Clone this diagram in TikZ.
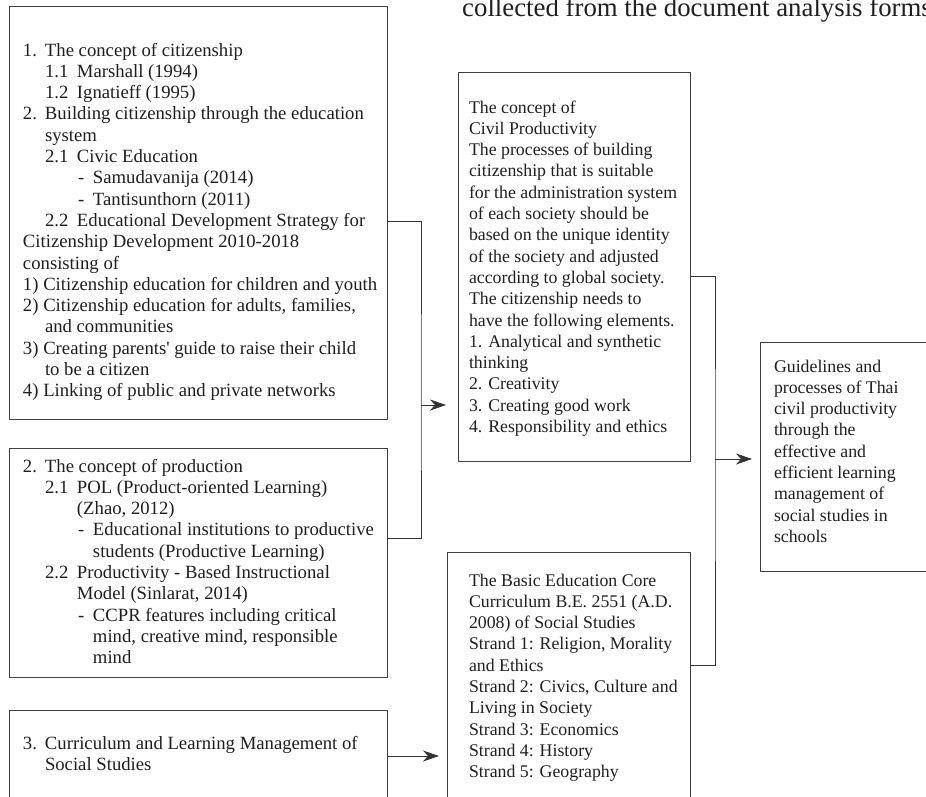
\documentclass[tikz,border=0pt]{standalone}
\usepackage{fontspec}
\setmainfont{Liberation Serif}
\usetikzlibrary{arrows.meta,calc}
\newcommand{\lb}[2]{\makebox[#1pt][l]{#2}}
\newcommand{\ind}[1]{\hspace*{#1pt}}
\begin{document}
\begin{tikzpicture}[x=1pt,y=-1pt,
  box/.style={draw=black!75, line width=0.9pt, inner sep=0pt, outer sep=0pt, anchor=north west},
  txt/.style={anchor=north west, inner sep=0pt, outer sep=0pt, align=left,
              font=\fontsize{18.7}{21.3}\selectfont, text=black!88},
  rtxt/.style={txt, font=\fontsize{17.8}{21.3}\selectfont},
  conn/.style={draw=black!80, line width=0.8pt},
  arr/.style={conn, -{Stealth[length=16pt,width=11pt,inset=5pt]}}]
\useasboundingbox (0,0) rectangle (926,796);
\clip (0,0) rectangle (926,796);

% boxes
\node[box, minimum width=378pt, minimum height=413pt] (b1) at (9,6) {};
\node[box, minimum width=378pt, minimum height=229pt] (b2) at (9,448) {};
\node[box, minimum width=378pt, minimum height=100pt] (b3) at (9,710) {};
\node[box, minimum width=232pt, minimum height=389pt] (bC) at (458,72) {};
\node[box, minimum width=243pt, minimum height=260pt] (bD) at (447,552) {};
\node[box, minimum width=180pt, minimum height=229pt] (bE) at (760,342) {};

% title fragment
\node[anchor=base west, inner sep=0pt, font=\fontsize{26.8}{30}\selectfont, text=black!88] (title) at (462,16) {collected from the document analysis forms};

% texts
\node[txt] (t1) at (23,41.1) {\strut\lb{22}{1.}The concept of citizenship\\
\ind{22}\lb{32}{1.1}Marshall (1994)\\
\ind{22}\lb{32}{1.2}Ignatieff (1995)\\
\lb{22}{2.}Building citizenship through the education\\
\ind{22}system\\
\ind{22}\lb{32}{2.1}Civic Education\\
\ind{55}\lb{15}{-}Samudavanija (2014)\\
\ind{55}\lb{15}{-}Tantisunthorn (2011)\\
\ind{22}\lb{32}{2.2}Educational Development Strategy for\\
Citizenship Development 2010-2018\\
consisting of\\
1) Citizenship education for children and youth\\
2) Citizenship education for adults, families,\\
\ind{22}and communities\\
3) Creating parents\textquotesingle\ guide to raise their child\\
\ind{22}to be a citizen\\
4) Linking of public and private networks};

\node[txt] (t2) at (23,457.1) {\strut\lb{22}{2.}The concept of production\\
\ind{22}\lb{32}{2.1}POL (Product-oriented Learning)\\
\ind{54}(Zhao, 2012)\\
\ind{55}\lb{15}{-}Educational institutions to productive\\
\ind{70}students (Productive Learning)\\
\ind{22}\lb{32}{2.2}Productivity - Based Instructional\\
\ind{54}Model (Sinlarat, 2014)\\
\ind{55}\lb{15}{-}CCPR features including critical\\
\ind{70}mind, creative mind, responsible\\
\ind{70}mind};

\node[txt] (t3) at (23,734.1) {\strut\lb{22}{3.}Curriculum and Learning Management of\\
\ind{22}Social Studies};

\node[rtxt] (tC) at (469,98.1) {\strut The concept of\\
Civil Productivity\\
The processes of building\\
citizenship that is suitable\\
for the administration system\\
of each society should be\\
based on the unique identity\\
of the society and adjusted\\
according to global society.\\
The citizenship needs to\\
have the following elements.\\
1. Analytical and synthetic\\
thinking\\
2. Creativity\\
3. Creating good work\\
4. Responsibility and ethics};

\node[rtxt] (tD) at (469,571.1) {\strut The Basic Education Core\\
Curriculum B.E. 2551 (A.D.\\
2008) of Social Studies\\
Strand 1: Religion, Morality\\
and Ethics\\
Strand 2: Civics, Culture and\\
Living in Society\\
Strand 3: Economics\\
Strand 4: History\\
Strand 5: Geography};

\node[rtxt] (tE) at (774,357.1) {\strut Guidelines and\\
processes of Thai\\
civil productivity\\
through the\\
effective and\\
efficient learning\\
management of\\
social studies in\\
schools};

% connectors
\coordinate (j1) at (421,405);
\coordinate (j2) at (715,459);
\draw[conn] ($(b1.north east)+(0,215)$) -| (j1) |- ($(b2.north east)+(0,90)$);
\draw[arr] (j1) -- ($(bC.west |- j1)+(-12,0)$);
\draw[conn] ($(bC.north east)+(0,204)$) -| (j2) |- ($(bD.north east)+(0,113)$);
\draw[arr] (j2) -- ($(bE.west |- j2)+(-8,0)$);
\draw[arr] ($(b3.north east)+(0,46)$) -- ($(bD.west |- 0,756)+(-8,0)$);
\end{tikzpicture}
\end{document}
